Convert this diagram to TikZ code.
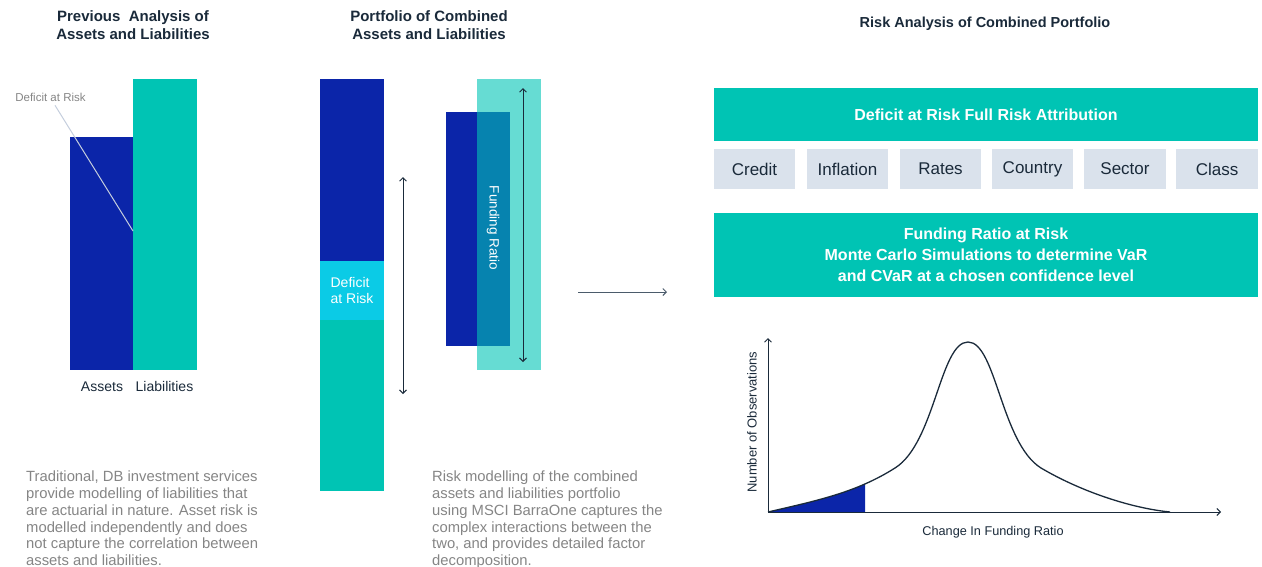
\documentclass[tikz,border=0pt]{standalone}
\usepackage{fontspec}
\setmainfont{Liberation Sans}
\usetikzlibrary{arrows.meta,calc}
\definecolor{navy}{HTML}{1A2A3A}
\definecolor{mblue}{HTML}{0B25A9}
\definecolor{mteal}{HTML}{00C4B4}
\definecolor{mcyan}{HTML}{0BCBE6}
\definecolor{moverlap}{HTML}{0683AF}
\definecolor{mlteal}{HTML}{66DCD3}
\definecolor{boxgray}{HTML}{DAE2EC}
\definecolor{paragray}{HTML}{858585}
\definecolor{leadcol}{HTML}{C5CEDD}
\definecolor{arrgray}{HTML}{4B5B6B}
\begin{document}
\begin{tikzpicture}[x=1pt,y=-1pt,
  bar/.style={rectangle, inner sep=0pt, outer sep=0pt, anchor=north west, draw=none},
  ttl/.style={font=\fontsize{15}{18}\selectfont\bfseries, text=navy, align=center, inner sep=0pt},
  para/.style={font=\fontsize{14.8}{16.7}\selectfont, text=paragray, align=left, anchor=north west, inner sep=0pt},
  lbl/.style={font=\fontsize{14}{16}\selectfont, text=navy, inner sep=0pt},
  banner/.style={bar, fill=mteal, text=white, font=\fontsize{16}{21}\selectfont\bfseries, align=center, minimum width=544pt},
  factor/.style={bar, fill=boxgray, text=navy, font=\fontsize{17}{20}\selectfont, minimum height=40pt},
  barb/.tip={Straight Barb[length=3.5pt,width=7pt]},
  dbl/.style={draw=navy, line width=0.9pt, barb-barb},
  axis/.style={draw=navy, line width=1pt, -barb},
]
\useasboundingbox (0,0) rectangle (1262,566);

% ---------- left panel ----------
\node[ttl] (t1) at (133,25) {Previous\ \ Analysis of\\Assets and Liabilities};
\node[bar, fill=mblue, minimum width=63pt, minimum height=233pt] (assets) at (70,137) {};
\node[bar, fill=mteal, minimum width=64pt, minimum height=291pt] (liab) at (133,79) {};
\node[lbl, anchor=base] (assetslbl) at (102,391) {Assets};
\node[lbl, anchor=base] (liablbl) at (164.5,391) {Liabilities};
\node[font=\fontsize{11.5}{13}\selectfont, text=paragray, inner sep=0pt, anchor=base] (darlbl) at (50.5,101) {Deficit at Risk};
\coordinate (leadend) at (133,231);
\draw[leadcol, line width=1pt] ([xshift=4.5pt,yshift=-4pt]darlbl.south) -- (leadend);
\node[para] (p1) at (26,471) {Traditional, DB investment services\\provide modelling of liabilities that\\are actuarial in nature. Asset risk is\\modelled independently and does\\not capture the correlation between\\assets and liabilities.};

% ---------- middle panel ----------
\node[ttl] (t2) at (429,25) {Portfolio of Combined\\Assets and Liabilities};
\node[bar, fill=mblue, minimum width=64pt, minimum height=182pt] (pblue) at (320,79) {};
\node[bar, fill=mcyan, minimum width=64pt, minimum height=59pt, text=white, font=\fontsize{14}{16}\selectfont, align=left] (pdar) at (320,261) {Deficit\\at Risk};
\node[bar, fill=mteal, minimum width=64pt, minimum height=171pt] (pteal) at (320,320) {};
\coordinate (d1t) at (403,177);
\coordinate (d1b) at (403,394);
\draw[dbl] (d1t) -- (d1b);

\node[bar, fill=mblue, minimum width=31pt, minimum height=234pt] (fa) at (446,112) {};
\node[bar, fill=mlteal, minimum width=64pt, minimum height=291pt] (fl) at (477,79) {};
\node[bar, fill=moverlap, minimum width=33pt, minimum height=234pt] (fo) at (477,112) {};
\node[font=\fontsize{13.5}{15}\selectfont, text=white, rotate=-90, inner sep=0pt] (frlbl) at (493,228) {Funding Ratio};
\coordinate (d2t) at (523,88);
\coordinate (d2b) at (523,362);
\draw[dbl] (d2t) -- (d2b);
\node[para] (p2) at (432,471) {Risk modelling of the combined\\assets and liabilities portfolio\\using MSCI BarraOne captures the\\complex interactions between the\\two, and provides detailed factor\\decomposition.};

% ---------- arrow ----------
\coordinate (arrA) at (578,292);
\coordinate (arrB) at (667,292);
\draw[draw=arrgray, line width=1pt, -barb] (arrA) -- (arrB);

% ---------- right panel ----------
\node[font=\fontsize{14.5}{17}\selectfont\bfseries, text=navy, inner sep=0pt, anchor=base] (t3) at (985,27) {Risk Analysis of Combined Portfolio};
\node[banner, minimum height=53pt] (dfr) at (714,88) {Deficit at Risk Full Risk Attribution};
\node[factor, minimum width=81pt] (credit) at (714,149) {Credit};
\node[factor, minimum width=81pt] (infl) at (807,149) {Inflation};
\node[factor, minimum width=81pt] (rates) at (900,149) {Rates};
\node[factor, minimum width=81pt] (country) at (992,149) {Country};
\node[factor, minimum width=82pt] (sector) at (1084,149) {Sector};
\node[factor, minimum width=82pt] (class) at (1176,149) {Class};
\node[banner, minimum height=84pt] (frr) at (714,213) {Funding Ratio at Risk\\Monte Carlo Simulations to determine VaR\\and CVaR at a chosen confidence level};

% ---------- chart ----------
\coordinate (o) at (768,512);
\coordinate (ytop) at (768,338);
\coordinate (xend) at (1221,512);
\def\curvepath{(768,512) .. controls (820,500) and (857,492) .. (895,468)
  .. controls (935,443) and (940,342) .. (968,342)
  .. controls (996,342) and (1001,443) .. (1041,468)
  .. controls (1080,491) and (1130,508) .. (1170,512)}
\begin{scope}
  \clip (768,330) rectangle (865,512);
  \fill[mblue] \curvepath -- cycle;
\end{scope}
\draw[navy, line width=1.3pt] \curvepath;
\draw[axis] (o) -- (ytop);
\draw[axis] (o) -- (xend);
\node[font=\fontsize{12.7}{15}\selectfont, text=navy, inner sep=0pt, anchor=base] (xlbl) at (993,535.5) {Change In Funding Ratio};
\node[font=\fontsize{13}{15}\selectfont, text=navy, inner sep=0pt, rotate=90] (ylbl) at (752,422) {Number of Observations};
\end{tikzpicture}
\end{document}
